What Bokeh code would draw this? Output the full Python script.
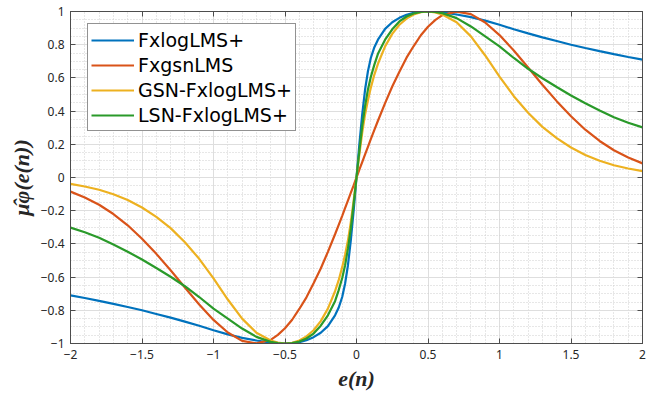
from bokeh.plotting import figure
from bokeh.models import Legend, LegendItem, LinearAxis, FixedTicker, Range1d
from bokeh.embed import file_html
from bokeh.resources import INLINE

# ---- data ----
e_vals = [-2.0, -1.9, -1.8, -1.7, -1.6, -1.5, -1.4, -1.3, -1.2, -1.1, -1.0, -0.9, -0.8, -0.7, -0.6, -0.55,
          -0.5, -0.45, -0.4, -0.35, -0.3, -0.25, -0.2, -0.15, -0.125, -0.1, -0.08, -0.06, -0.04, -0.02,
          0.0,
          0.02, 0.04, 0.06, 0.08, 0.1, 0.125, 0.15, 0.2, 0.25, 0.3, 0.35, 0.4, 0.45, 0.5,
          0.55, 0.6, 0.7, 0.8, 0.9, 1.0, 1.1, 1.2, 1.3, 1.4, 1.5, 1.6, 1.7, 1.8, 1.9, 2.0]

fxlog = [-0.71, -0.726, -0.743, -0.761, -0.78, -0.80, -0.822, -0.844, -0.868, -0.893, -0.92, -0.945,
         -0.966, -0.982, -0.995, -0.999, -1.0, -0.998, -0.992, -0.98, -0.962, -0.935, -0.895, -0.83,
         -0.785, -0.72, -0.64, -0.53, -0.38, -0.2,
         0.0,
         0.2, 0.38, 0.53, 0.64, 0.72, 0.785, 0.83, 0.895, 0.935, 0.962, 0.98, 0.992, 0.998, 1.0,
         0.999, 0.995, 0.982, 0.966, 0.945, 0.92, 0.893, 0.868, 0.844, 0.822, 0.80, 0.78, 0.761,
         0.743, 0.726, 0.71]

fxgsn = [-0.085, -0.12, -0.164, -0.22, -0.288, -0.369, -0.46, -0.559, -0.663, -0.765, -0.858, -0.934,
         -0.984, -0.999, -0.978, -0.948, -0.908, -0.857, -0.792, -0.722, -0.637, -0.548, -0.448, -0.342,
         -0.287, -0.231, -0.185, -0.139, -0.093, -0.047,
         0.0,
         0.047, 0.093, 0.139, 0.185, 0.231, 0.287, 0.342, 0.448, 0.548, 0.637, 0.722, 0.792, 0.857,
         0.908, 0.948, 0.978, 0.999, 0.984, 0.934, 0.858, 0.765, 0.663, 0.559, 0.46, 0.369, 0.288,
         0.22, 0.164, 0.12, 0.085]

gsn = [-0.038, -0.054, -0.074, -0.101, -0.136, -0.181, -0.237, -0.305, -0.39, -0.49, -0.608, -0.735,
       -0.85, -0.935, -0.982, -0.995, -1.0, -0.996, -0.982, -0.957, -0.92, -0.865, -0.79, -0.685,
       -0.62, -0.54, -0.465, -0.38, -0.27, -0.14,
       0.0,
       0.14, 0.27, 0.38, 0.465, 0.54, 0.62, 0.685, 0.79, 0.865, 0.92, 0.957, 0.982, 0.996, 1.0,
       0.995, 0.982, 0.935, 0.85, 0.735, 0.608, 0.49, 0.39, 0.305, 0.237, 0.181, 0.136, 0.101,
       0.074, 0.054, 0.038]

lsn = [-0.302, -0.33, -0.363, -0.404, -0.447, -0.494, -0.545, -0.598, -0.655, -0.72, -0.79, -0.85,
       -0.91, -0.96, -0.99, -0.997, -1.0, -0.997, -0.988, -0.97, -0.94, -0.893, -0.83, -0.745,
       -0.68, -0.605, -0.53, -0.43, -0.31, -0.16,
       0.0,
       0.16, 0.31, 0.43, 0.53, 0.605, 0.68, 0.745, 0.83, 0.893, 0.94, 0.97, 0.988, 0.997, 1.0,
       0.997, 0.99, 0.96, 0.91, 0.85, 0.79, 0.72, 0.655, 0.598, 0.545, 0.494, 0.447, 0.404,
       0.363, 0.33, 0.302]

series_names = ["FxlogLMS+", "FxgsnLMS", "GSN-FxlogLMS+", "LSN-FxlogLMS+"]
series_colors = ["#0072BD", "#D95319", "#EDB120", "#2A9A2A"]

x_ticks = [-2, -1.5, -1, -0.5, 0, 0.5, 1, 1.5, 2]
x_tick_labels = ["\u22122", "\u22121.5", "\u22121", "\u22120.5", "0", "0.5", "1", "1.5", "2"]
y_ticks = [-1, -0.8, -0.6, -0.4, -0.2, 0, 0.2, 0.4, 0.6, 0.8, 1]
y_tick_labels = ["\u22121", "\u22120.8", "\u22120.6", "\u22120.4", "\u22120.2", "0",
                 "0.2", "0.4", "0.6", "0.8", "1"]

x_label = "e(n)"
y_label = "\u03bc\u0302\u03c6(e(n))"

# ---- figure ----
p = figure(width=664, height=394, output_backend="svg", toolbar_location=None,
           x_range=Range1d(-2, 2), y_range=Range1d(-1, 1),
           min_border_left=70, min_border_right=22, min_border_top=11, min_border_bottom=51)
p.background_fill_color = "white"
p.border_fill_color = "white"
p.outline_line_color = "#4d4d4d"
p.outline_line_width = 1

x_minor = [round(-2 + 0.1 * i, 2) for i in range(41)]
y_minor = [round(-1 + 0.05 * i, 3) for i in range(41)]
xt = FixedTicker(ticks=x_ticks, minor_ticks=x_minor)
yt = FixedTicker(ticks=y_ticks, minor_ticks=y_minor)

p.xaxis.ticker = xt
p.yaxis.ticker = yt
p.xgrid.ticker = xt
p.ygrid.ticker = yt
p.xaxis.major_label_overrides = dict(zip(x_ticks, x_tick_labels))
p.yaxis.major_label_overrides = dict(zip(y_ticks, y_tick_labels))

for g in (p.xgrid, p.ygrid):
    g.grid_line_color = "#dedede"
    g.grid_line_width = 1
    g.minor_grid_line_color = "#cfcfcf"
    g.minor_grid_line_dash = "1 2"
    g.minor_grid_line_width = 1

for ax in (p.xaxis, p.yaxis):
    ax.axis_line_color = "#4d4d4d"
    ax.major_tick_line_color = "#4d4d4d"
    ax.major_tick_in = 5
    ax.major_tick_out = 0
    ax.minor_tick_in = 0
    ax.minor_tick_out = 0
    ax.major_label_text_font = "Noto Sans"
    ax.major_label_text_font_size = "12px"
    ax.major_label_text_color = "#262626"
    ax.major_label_standoff = 6
    ax.axis_label_text_font = "Liberation Serif"
    ax.axis_label_text_font_style = "bold italic"
    ax.axis_label_text_font_size = "22px"
    ax.axis_label_text_color = "#262626"
    ax.axis_label_standoff = 4

p.xaxis.axis_label = x_label
p.yaxis.axis_label = y_label

# box ticks on top and right (no labels)
for place in ("right", "above"):
    ax = LinearAxis(ticker=yt if place == "right" else xt)
    ax.major_label_text_color = None
    ax.major_label_text_font_size = "1px"
    ax.axis_line_color = "#4d4d4d"
    ax.major_tick_line_color = "#4d4d4d"
    ax.major_tick_in = 5
    ax.major_tick_out = 0
    ax.minor_tick_in = 0
    ax.minor_tick_out = 0
    ax.major_label_standoff = 0
    p.add_layout(ax, place)

renderers = []
for ys, c in zip([fxlog, fxgsn, gsn, lsn], series_colors):
    r = p.line(e_vals, ys, line_color=c, line_width=2.2)
    renderers.append(r)

legend = Legend(items=[LegendItem(label=n, renderers=[r]) for n, r in zip(series_names, renderers)],
                location=(17, 212))
legend.label_text_font = "DejaVu Sans"
legend.label_text_font_size = "19px"
legend.label_text_color = "#000000"
legend.glyph_width = 43
legend.glyph_height = 20
legend.label_height = 25
legend.label_standoff = 4
legend.spacing = 0
legend.padding = 3
legend.margin = 0
legend.border_line_color = "#262626"
legend.border_line_width = 1
legend.background_fill_color = "white"
legend.background_fill_alpha = 1
p.add_layout(legend)

open("out.html", "w").write(file_html(p, INLINE))
